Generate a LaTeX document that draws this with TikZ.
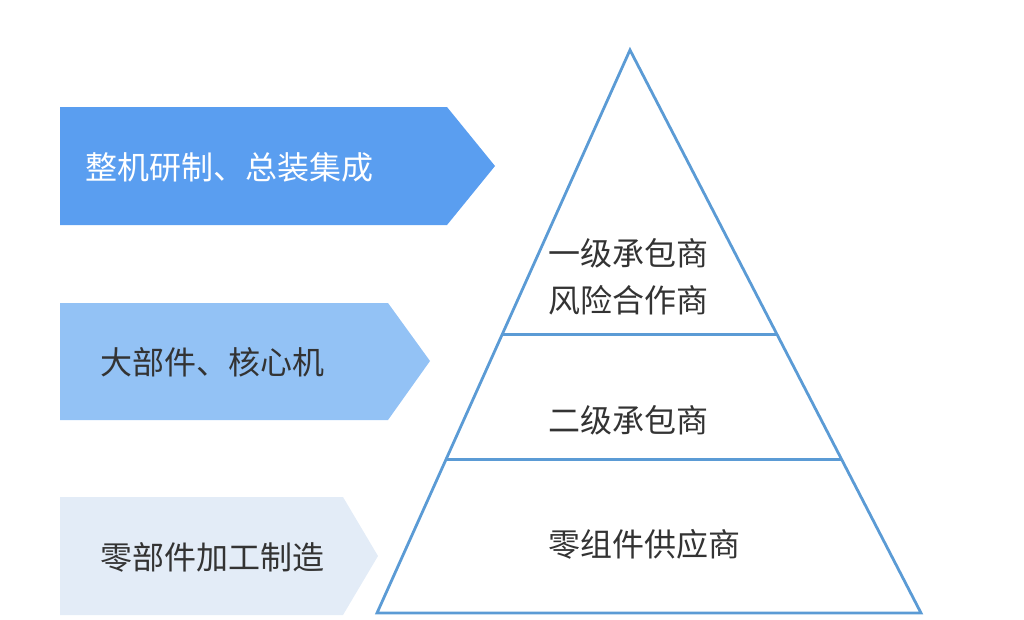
\documentclass[tikz,border=0pt]{standalone}
\usepackage{fontspec}
\setmainfont{Noto Sans CJK SC}
\usepackage{xcolor}
\usetikzlibrary{positioning, calc}

\definecolor{bandtop}{HTML}{5A9EF0}
\definecolor{bandmid}{HTML}{93C2F5}
\definecolor{bandlow}{HTML}{E3ECF7}
\definecolor{pyrline}{HTML}{5B9BD5}
\definecolor{txtdark}{HTML}{333333}

\begin{document}
\begin{tikzpicture}[x=1pt, y=-1pt,
	label/.style={font=\fontsize{32}{47}\selectfont, inner sep=0pt, anchor=west},
	pyr/.style={draw=pyrline, line width=2.8pt, line join=miter}]
	\useasboundingbox (0,0) rectangle (1024,619);
	% arrow bands
	\fill[bandtop] (60,107) -- (447,107) -- (495,166) -- (447,225) -- (60,225) -- cycle;
	\fill[bandmid] (60,303) -- (388,303) -- (430,361) -- (388,420) -- (60,420) -- cycle;
	\fill[bandlow] (60,497) -- (343,497) -- (378,556) -- (343,615) -- (60,615) -- cycle;
	\node[label, white] (top) at (85,167) {整机研制、总装集成};
	\node[label, txtdark] (mid) at (100,362) {大部件、核心机};
	\node[label, txtdark] (low) at (100,557) {零部件加工制造};
	% pyramid
	\coordinate (apex) at (630,50);
	\coordinate (bl) at (377,613);
	\coordinate (br) at (921,613);
	\draw[pyr] (bl) -- (apex) -- (br) -- cycle;
	\draw[pyr] ($(bl)!0.494!(apex)$) coordinate (l1) -- ($(br)!0.494!(apex)$) coordinate (r1);
	\draw[pyr] ($(bl)!0.272!(apex)$) coordinate (l2) -- ($(br)!0.272!(apex)$) coordinate (r2);
	\node[label, txtdark, align=left] (tier1) at (548,277) {一级承包商\\风险合作商};
	\node[label, txtdark] (tier2) at (548,420) {二级承包商};
	\node[label, txtdark] (tier3) at (548,544) {零组件供应商};
\end{tikzpicture}
\end{document}
